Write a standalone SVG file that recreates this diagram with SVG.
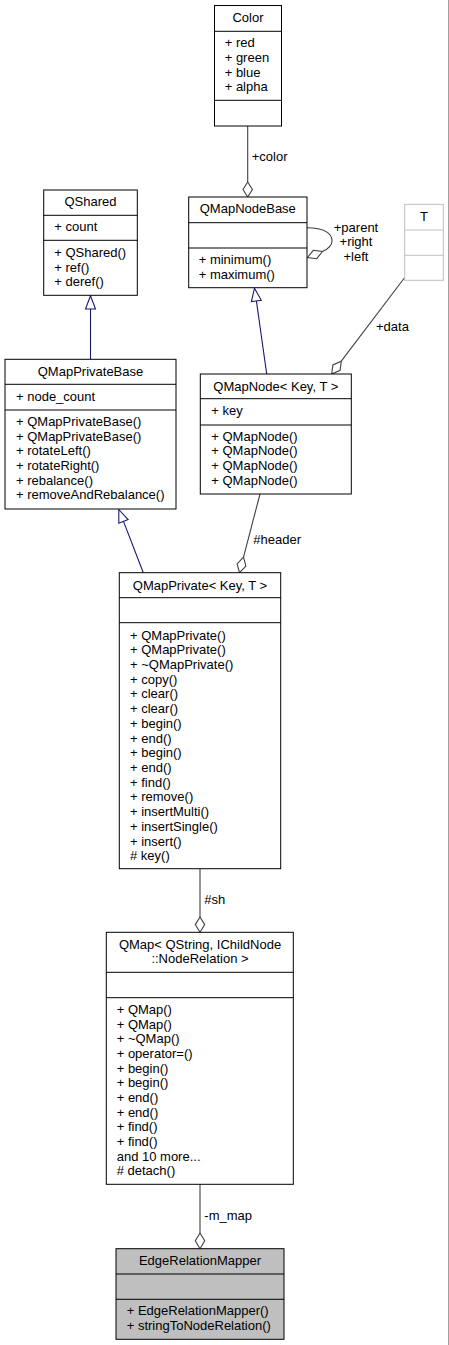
<svg xmlns="http://www.w3.org/2000/svg" width="449" height="1345" viewBox="0 0 449 1345">
<style>
  text { font-family: "Liberation Sans", Arial, sans-serif; font-size: 13px; fill: #000; }
  .c { text-anchor: middle; }
  .box { fill: #fff; stroke: #000; stroke-width: 1; }
  .gbox { fill: #fff; stroke: #bfbfbf; stroke-width: 1; }
  .sel { fill: #bfbfbf; stroke: #000; stroke-width: 1; }
  .div { stroke: #000; stroke-width: 1; }
  .gdiv { stroke: #bfbfbf; stroke-width: 1; }
  .use { fill: none; stroke: #404040; stroke-width: 1.1; }
  .dia { fill: #fff; stroke: #404040; stroke-width: 1.1; }
  .inh { fill: none; stroke: #191970; stroke-width: 1.1; }
  .tri { fill: #fff; stroke: #191970; stroke-width: 1.1; }
</style>
<rect x="0" y="0" width="449" height="1345" fill="#fff"/>
<line x1="448.5" y1="0" x2="448.5" y2="1345" stroke="#a0a0a0" stroke-width="1"/>

<g id="connectors">
  <!-- Color -> QMapNodeBase (+color) -->
  <line class="use" x1="247.7" y1="126" x2="247.7" y2="182"/>
  <polygon class="dia" points="247.7,182 243,189.5 247.7,197 252.4,189.5"/>
  <text x="251.7" y="161.2">+color</text>
  <!-- QMapNodeBase self loop -->
  <path class="use" d="M307,227.7 C322,228 332,232 332,241 C332,246 328,249 322.5,251.5"/>
  <polygon class="dia" points="322.5,251.5 316.7,258.7 307.5,257.5 313.3,250.3"/>
  <text class="c" x="356" y="231.5">+parent</text>
  <text class="c" x="356" y="246.2">+right</text>
  <text class="c" x="356" y="261">+left</text>
  <!-- T -> QMapNode (+data) -->
  <line class="use" x1="404.7" y1="277.5" x2="341.3" y2="361.2"/>
  <polygon class="dia" points="341.3,361.2 340.1,370.3 331.7,374 332.9,364.9"/>
  <text x="376" y="331.2">+data</text>
  <!-- QShared -> QMapPrivateBase (inherit) -->
  <line class="inh" x1="90.5" y1="309" x2="90.5" y2="359.3"/>
  <polygon class="tri" points="90.5,295.8 85.5,309 95.5,309"/>
  <!-- QMapNodeBase -> QMapNode (inherit) -->
  <line class="inh" x1="256.4" y1="300.9" x2="266.7" y2="374"/>
  <polygon class="tri" points="254.5,288.2 261.3,300.2 251.4,301.6"/>
  <!-- QMapPrivateBase -> QMapPrivate (inherit) -->
  <line class="inh" x1="123.5" y1="521.4" x2="143.3" y2="572.7"/>
  <polygon class="tri" points="118.8,509.5 128.1,519.6 118.8,523.2"/>
  <!-- QMapNode -> QMapPrivate (#header) -->
  <line class="use" x1="260" y1="494" x2="243.5" y2="557.2"/>
  <polygon class="dia" points="243.5,557.2 245.9,566.1 239.5,572.7 237.1,563.8"/>
  <text x="253.3" y="543.8">#header</text>
  <!-- QMapPrivate -> QMap (#sh) -->
  <line class="use" x1="200" y1="868.7" x2="200" y2="917"/>
  <polygon class="dia" points="200,917 195.3,924.6 200,932.3 204.7,924.6"/>
  <text x="204.3" y="903.8">#sh</text>
  <!-- QMap -> EdgeRelationMapper (-m_map) -->
  <line class="use" x1="200" y1="1184.3" x2="200" y2="1233"/>
  <polygon class="dia" points="200,1233 195.3,1240.8 200,1248.7 204.7,1240.8"/>
  <text x="204.3" y="1220.2">-m_map</text>
</g>

<g id="Color">
  <rect class="box" x="214.5" y="5.5" width="67" height="120.5"/>
  <line class="div" x1="214.5" y1="31.3" x2="281.5" y2="31.3"/>
  <line class="div" x1="214.5" y1="100.3" x2="281.5" y2="100.3"/>
  <text class="c" x="248" y="21.8">Color</text>
  <text x="224.7" y="47.2">+ red</text>
  <text x="224.7" y="62">+ green</text>
  <text x="224.7" y="76.7">+ blue</text>
  <text x="224.7" y="91.4">+ alpha</text>
</g>

<g id="QShared">
  <rect class="box" x="43.7" y="190" width="93.6" height="105.3"/>
  <line class="div" x1="43.7" y1="215.3" x2="137.3" y2="215.3"/>
  <line class="div" x1="43.7" y1="240.3" x2="137.3" y2="240.3"/>
  <text class="c" x="90.5" y="205.8">QShared</text>
  <text x="54.3" y="231.2">+ count</text>
  <text x="54.3" y="257">+ QShared()</text>
  <text x="54.3" y="271.5">+ ref()</text>
  <text x="54.3" y="286.2">+ deref()</text>
</g>

<g id="QMapNodeBase">
  <rect class="box" x="188.7" y="197" width="118.3" height="90.7"/>
  <line class="div" x1="188.7" y1="222.7" x2="307" y2="222.7"/>
  <line class="div" x1="188.7" y1="248" x2="307" y2="248"/>
  <text class="c" x="247.8" y="213.2">QMapNodeBase</text>
  <text x="198.7" y="263.8">+ minimum()</text>
  <text x="198.7" y="278.6">+ maximum()</text>
</g>

<g id="T">
  <rect class="gbox" x="404.7" y="204.3" width="38.6" height="76"/>
  <line class="gdiv" x1="404.7" y1="230" x2="443.3" y2="230"/>
  <line class="gdiv" x1="404.7" y1="255.3" x2="443.3" y2="255.3"/>
  <text class="c" x="424" y="220.5">T</text>
</g>

<g id="QMapPrivateBase">
  <rect class="box" x="5" y="359.3" width="171" height="149.7"/>
  <line class="div" x1="5" y1="384.3" x2="176" y2="384.3"/>
  <line class="div" x1="5" y1="410" x2="176" y2="410"/>
  <text class="c" x="90.5" y="375.5">QMapPrivateBase</text>
  <text x="16" y="401.2">+ node_count</text>
  <text x="16" y="426.2">+ QMapPrivateBase()</text>
  <text x="16" y="440.8">+ QMapPrivateBase()</text>
  <text x="16" y="455.4">+ rotateLeft()</text>
  <text x="16" y="470">+ rotateRight()</text>
  <text x="16" y="484.6">+ rebalance()</text>
  <text x="16" y="499.2">+ removeAndRebalance()</text>
</g>

<g id="QMapNode">
  <rect class="box" x="200.3" y="374" width="151" height="120"/>
  <line class="div" x1="200.3" y1="398.7" x2="351.3" y2="398.7"/>
  <line class="div" x1="200.3" y1="425" x2="351.3" y2="425"/>
  <text class="c" x="275.8" y="390.5">QMapNode&lt; Key, T &gt;</text>
  <text x="211.3" y="415.2">+ key</text>
  <text x="211.3" y="440.5">+ QMapNode()</text>
  <text x="211.3" y="455.2">+ QMapNode()</text>
  <text x="211.3" y="469.9">+ QMapNode()</text>
  <text x="211.3" y="484.6">+ QMapNode()</text>
</g>

<g id="QMapPrivate">
  <rect class="box" x="119.3" y="572.7" width="161.4" height="296"/>
  <line class="div" x1="119.3" y1="597.7" x2="280.7" y2="597.7"/>
  <line class="div" x1="119.3" y1="622.7" x2="280.7" y2="622.7"/>
  <text class="c" x="200" y="589.5">QMapPrivate&lt; Key, T &gt;</text>
  <text x="130" y="639.5">+ QMapPrivate()</text>
  <text x="130" y="654.2">+ QMapPrivate()</text>
  <text x="130" y="668.9">+ ~QMapPrivate()</text>
  <text x="130" y="683.6">+ copy()</text>
  <text x="130" y="698.3">+ clear()</text>
  <text x="130" y="713">+ clear()</text>
  <text x="130" y="727.8">+ begin()</text>
  <text x="130" y="742.5">+ end()</text>
  <text x="130" y="757.2">+ begin()</text>
  <text x="130" y="771.9">+ end()</text>
  <text x="130" y="786.6">+ find()</text>
  <text x="130" y="801.3">+ remove()</text>
  <text x="130" y="816">+ insertMulti()</text>
  <text x="130" y="830.8">+ insertSingle()</text>
  <text x="130" y="845.5">+ insert()</text>
  <text x="130" y="860.2"># key()</text>
</g>

<g id="QMap">
  <rect class="box" x="106.3" y="932.3" width="187" height="252"/>
  <line class="div" x1="106.3" y1="972.3" x2="293.3" y2="972.3"/>
  <line class="div" x1="106.3" y1="997.7" x2="293.3" y2="997.7"/>
  <text class="c" x="200" y="948.5">QMap&lt; QString, IChildNode</text>
  <text class="c" x="200" y="962.8">::NodeRelation &gt;</text>
  <text x="116.7" y="1013.8">+ QMap()</text>
  <text x="116.7" y="1028.5">+ QMap()</text>
  <text x="116.7" y="1043.1">+ ~QMap()</text>
  <text x="116.7" y="1057.8">+ operator=()</text>
  <text x="116.7" y="1072.5">+ begin()</text>
  <text x="116.7" y="1087.2">+ begin()</text>
  <text x="116.7" y="1101.8">+ end()</text>
  <text x="116.7" y="1116.5">+ end()</text>
  <text x="116.7" y="1131.2">+ find()</text>
  <text x="116.7" y="1145.8">+ find()</text>
  <text x="116.7" y="1160.5">and 10 more...</text>
  <text x="116.7" y="1175.2"># detach()</text>
</g>

<g id="EdgeRelationMapper">
  <rect class="sel" x="116" y="1248.7" width="168" height="90.6"/>
  <line class="div" x1="116" y1="1274" x2="284" y2="1274"/>
  <line class="div" x1="116" y1="1299.3" x2="284" y2="1299.3"/>
  <text class="c" x="200" y="1264.5">EdgeRelationMapper</text>
  <text x="126.7" y="1315.2">+ EdgeRelationMapper()</text>
  <text x="126.7" y="1329.6">+ stringToNodeRelation()</text>
</g>
</svg>
